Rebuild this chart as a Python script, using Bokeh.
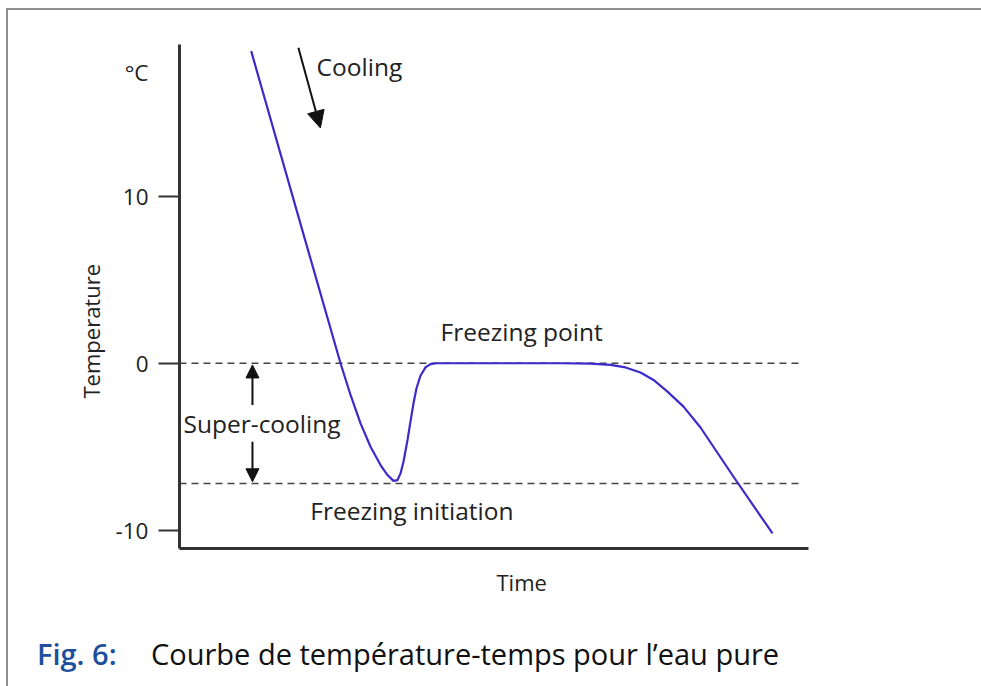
from bokeh.plotting import figure
from bokeh.models import Range1d, Arrow, NormalHead, FixedTicker, Title, Div
from bokeh.layouts import column
from bokeh.core.properties import value
from bokeh.embed import file_html
from bokeh.resources import INLINE

# Temperature-time curve (time in arbitrary units 0..100, temperature in °C)
time = [11.4, 20.0, 25.6, 27.19, 28.78, 30.37, 31.96, 33.07, 34.02, 34.66, 35.14,
        35.61, 36.25, 36.72, 37.2, 37.68, 38.31, 39.11, 39.9, 40.86, 60.57, 65.34,
        68.52, 70.91, 73.29, 75.36, 77.58, 80.13, 82.83, 88.08, 94.28]
temp = [18.7, 7.35, 0.0, -1.9, -3.6, -5.0, -6.1, -6.7, -7.05, -7.0, -6.6,
        -5.9, -4.6, -3.5, -2.4, -1.5, -0.75, -0.25, -0.05, 0.0, 0.0, -0.02,
        -0.1, -0.25, -0.55, -1.0, -1.7, -2.6, -3.85, -6.8, -10.2]

y_ticks = [-10, 0, 10]
y_unit_pos = 17.4
y_tick_labels = {-10: "-10", 0: "0", 10: "10", 17.4: "°C"}
x_label_pos = 54.4
freezing_point = 0.0
freezing_initiation = -7.2

FONT = "Open Sans"

p = figure(frame_width=629, frame_height=504, output_backend="svg",
           toolbar_location=None, x_range=Range1d(0, 100),
           y_range=Range1d(-11.1, 19.1),
           min_border_left=171, min_border_right=171,
           min_border_top=34, min_border_bottom=72)
p.outline_line_color = None
p.grid.visible = False
p.background_fill_color = "white"
p.border_fill_color = "white"

# x axis: single unmarked tick carrying the "Time" label
p.xaxis.ticker = FixedTicker(ticks=[x_label_pos])
p.xaxis.major_label_overrides = {x_label_pos: "Time"}
p.xaxis.axis_line_width = 3
p.xaxis.axis_line_color = "#333333"
p.xaxis.major_tick_line_color = None
p.xaxis.major_tick_out = 0
p.xaxis.minor_tick_line_color = None
p.xaxis.major_label_standoff = 18
p.xaxis.major_label_text_font = FONT
p.xaxis.major_label_text_font_size = "22px"
p.xaxis.major_label_text_color = "#222222"

# y axis: tick marks drawn as minor ticks, labels (incl. unit) as major labels
p.yaxis.ticker = FixedTicker(ticks=y_ticks + [y_unit_pos], minor_ticks=y_ticks)
p.yaxis.major_label_overrides = y_tick_labels
p.yaxis.axis_line_width = 3
p.yaxis.axis_line_color = "#333333"
p.yaxis.major_tick_line_color = None
p.yaxis.major_tick_out = 21
p.yaxis.major_tick_in = 0
p.yaxis.minor_tick_line_color = "#333333"
p.yaxis.minor_tick_line_width = 2
p.yaxis.minor_tick_out = 21
p.yaxis.minor_tick_in = 0
p.yaxis.major_label_standoff = 10
p.yaxis.major_label_text_font = FONT
p.yaxis.major_label_text_font_size = "22.5px"
p.yaxis.major_label_text_color = "#222222"

p.add_layout(Title(text="Temperature", align="left", offset=150,
                   text_font=FONT, text_font_size="22px", text_font_style="normal",
                   text_color="#222222", standoff=14), "left")

# reference dashed lines
p.line([0, 98.7], [freezing_point, freezing_point], line_color="#444444",
       line_width=1.5, line_dash="7 5")
p.line([0, 98.7], [freezing_initiation, freezing_initiation], line_color="#444444",
       line_width=1.5, line_dash="7 5")

# curve
p.line(time, temp, line_color="#3b2bcc", line_width=2.2, line_join="round")

# arrows
p.add_layout(Arrow(end=NormalHead(size=17, fill_color="#111111", line_color="#111111"),
                   x_start=18.9, y_start=18.9, x_end=22.4, y_end=14.1,
                   line_color="#111111", line_width=2))
p.add_layout(Arrow(end=NormalHead(size=13, fill_color="#111111", line_color="#111111"),
                   x_start=11.6, y_start=-2.5, x_end=11.6, y_end=-0.1,
                   line_color="#111111", line_width=2))
p.add_layout(Arrow(end=NormalHead(size=13, fill_color="#111111", line_color="#111111"),
                   x_start=11.6, y_start=-4.7, x_end=11.6, y_end=-7.1,
                   line_color="#111111", line_width=2))

# in-plot texts
txt = dict(text_font=value(FONT), text_font_size="24.5px", text_color="#222222",
           text_baseline="middle", text_align="left")
p.text(x=[21.8], y=[17.8], text=["Cooling"], **txt)
p.text(x=[0.64], y=[-3.6], text=["Super-cooling"], **txt)
p.text(x=[41.5], y=[1.9], text=["Freezing point"], **txt)
p.text(x=[20.8], y=[-8.8], text=["Freezing initiation"], **txt)

caption = Div(
    text=('<span style="display:inline-block;width:114px;color:#1d4f9c;'
          'font-weight:600;">Fig. 6:</span>'
          '<span style="color:#111111;">Courbe de température-temps pour l’eau pure</span>'),
    width=973, height=58,
    styles={"font-family": "'Open Sans'", "font-size": "29px",
            "padding-left": "24px", "padding-top": "10px", "line-height": "1.3",
            "white-space": "nowrap"})

layout = column(p, caption,
                styles={"border-top": "2px solid #8e8e8e",
                        "border-left": "2px solid #8e8e8e",
                        "margin-left": "6px", "margin-top": "8px"})

open("out.html", "w").write(file_html(layout, INLINE))
